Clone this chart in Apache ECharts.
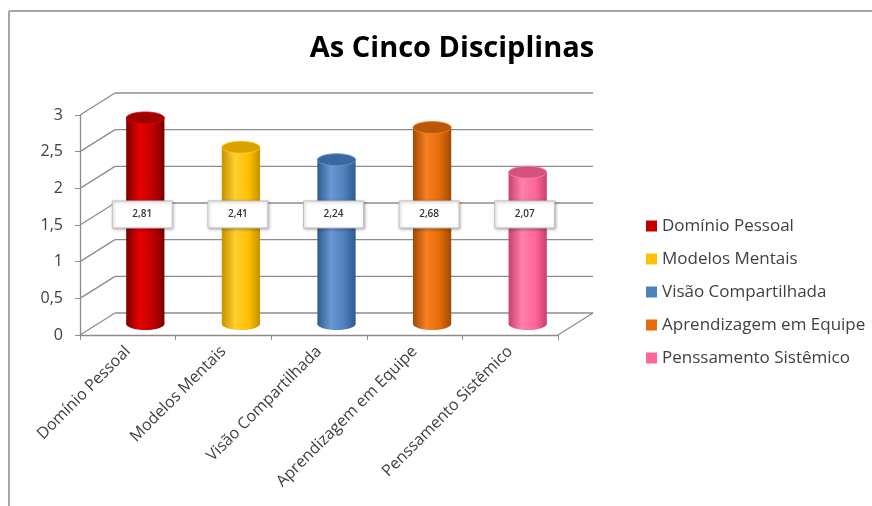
<!DOCTYPE html>
<html>
<head>
<meta charset="utf-8">
<script src="https://cdn.jsdelivr.net/npm/echarts@6/dist/echarts.min.js"></script>
<style>html,body{margin:0;padding:0;background:#fff}#c{width:872px;height:506px}</style>
</head>
<body>
<div id="c"></div>
<script>
const categories = ['Domínio Pessoal', 'Modelos Mentais', 'Visão Compartilhada', 'Aprendizagem em Equipe', 'Penssamento Sistêmico'];
const values = [2.81, 2.41, 2.24, 2.68, 2.07];
const yTicks = [0, 0.5, 1, 1.5, 2, 2.5, 3];
const labelAt = 1.5;

const colors = [
  {base:'#C00000', light:'#E80000', dark:'#7A0000', top:'#A00000'},
  {base:'#FFC000', light:'#FFD030', dark:'#C89000', top:'#D9A200'},
  {base:'#4F81BD', light:'#6A98D4', dark:'#2F5A8C', top:'#3A679D'},
  {base:'#E46C0A', light:'#F88020', dark:'#A04A05', top:'#B85808'},
  {base:'#FF6699', light:'#FF80AA', dark:'#C84070', top:'#D4527F'}
];
const DX = 35, DY = -22;
const fmt = v => String(v).replace('.', ',');
const font = 'Open Sans';

const chart = echarts.init(document.getElementById('c'));

function renderWall(params, api) {
  const v = api.value(1);
  const band = api.size([1, 0])[0];
  const n = categories.length;
  const p0 = api.coord([0, v]);
  const pN = api.coord([n - 1, v]);
  const xl = p0[0] - band / 2, xr = pN[0] + band / 2, y = p0[1];
  const st = {stroke:'#8c8c8c', lineWidth:1.3, fill:null};
  const ch = [
    {type:'line', shape:{x1:xl, y1:y, x2:xl + DX, y2:y + DY}, style:st},
    {type:'line', shape:{x1:xl + DX, y1:y + DY, x2:xr + DX, y2:y + DY}, style:st}
  ];
  if (v === 0) {
    ch.push({type:'line', shape:{x1:xr, y1:y, x2:xr + DX, y2:y + DY}, style:st});
  }
  return {type:'group', children:ch};
}

function makeBarRender(ci) {
  return function(params, api) {
    const i = api.value(0), v = api.value(1);
    const band = api.size([1, 0])[0];
    const top = api.coord([i, v]);
    const base = api.coord([i, 0]);
    const w = band * 0.4, rx = w / 2, ry = 6;
    const cx = top[0] + DX / 2;
    const yTop = top[1] + DY / 2, yBot = base[1] + DY / 2;
    const lab = api.coord([i, labelAt]);
    const c = colors[ci];
    const grad = new echarts.graphic.LinearGradient(0, 0, 1, 0, [
      {offset:0, color:c.dark}, {offset:0.35, color:c.light},
      {offset:0.7, color:c.base}, {offset:1, color:c.dark}
    ]);
    const ly = lab[1] + DY / 2;
    return {type:'group', children:[
      {type:'ellipse', shape:{cx:cx, cy:yBot, rx:rx, ry:ry}, style:{fill:grad}},
      {type:'rect', shape:{x:cx - rx, y:yTop, width:w, height:yBot - yTop}, style:{fill:grad}},
      {type:'ellipse', shape:{cx:cx, cy:yTop, rx:rx, ry:ry}, style:{fill:c.top, stroke:c.light, lineWidth:0.8}},
      {type:'rect', shape:{x:cx - 33, y:ly - 13, width:60, height:27},
        style:{fill:'#fff', stroke:'#bfbfbf', lineWidth:1, shadowBlur:3, shadowColor:'rgba(0,0,0,0.3)', shadowOffsetX:1, shadowOffsetY:1}},
      {type:'text', x:cx - 3, y:ly, style:{text:fmt(v), fill:'#333', font:'600 10px "' + font + '"', align:'center', verticalAlign:'middle'}}
    ]};
  };
}

const series = [{
  type:'custom', name:'wall', z:1, silent:true,
  renderItem: renderWall,
  data: yTicks.map(t => [0, t])
}];
categories.forEach((name, ci) => {
  series.push({
    type:'custom', name:name, z:5,
    itemStyle:{color:colors[ci].base},
    renderItem: makeBarRender(ci),
    data:[[ci, values[ci]]]
  });
});

chart.setOption({
  animation:false,
  title:{text:'As Cinco Disciplinas', left:447, top:29, textAlign:'center',
    textStyle:{fontFamily:font, fontSize:29, fontWeight:'bold', color:'#000'}},
  legend:{orient:'vertical', left:641, top:212, icon:'rect', itemWidth:11, itemHeight:11, itemGap:15,
    data:categories,
    textStyle:{fontFamily:font, fontSize:17, color:'#404040', lineHeight:18}},
  grid:{left:80, right:314, top:115, bottom:171},
  xAxis:{type:'category', data:categories,
    axisLine:{lineStyle:{color:'#8c8c8c', width:1.3}},
    axisTick:{show:true, length:5, lineStyle:{color:'#8c8c8c'}},
    axisLabel:{rotate:45, fontFamily:font, fontSize:16, color:'#404040', margin:14, interval:0}},
  yAxis:{type:'value', min:0, max:3, interval:0.5,
    splitLine:{show:false},
    axisLine:{show:true, lineStyle:{color:'#8c8c8c', width:1.3}},
    axisTick:{show:true, length:5, lineStyle:{color:'#8c8c8c'}},
    axisLabel:{formatter:fmt, fontFamily:font, fontSize:16, color:'#404040', margin:17}},
  graphic:[
    {type:'line', shape:{x1:9, y1:11, x2:872, y2:11}, style:{stroke:'#a6a6a6', lineWidth:2}},
    {type:'line', shape:{x1:9, y1:11, x2:9, y2:506}, style:{stroke:'#a6a6a6', lineWidth:2}}
  ],
  series:series
});
</script>
</body>
</html>
